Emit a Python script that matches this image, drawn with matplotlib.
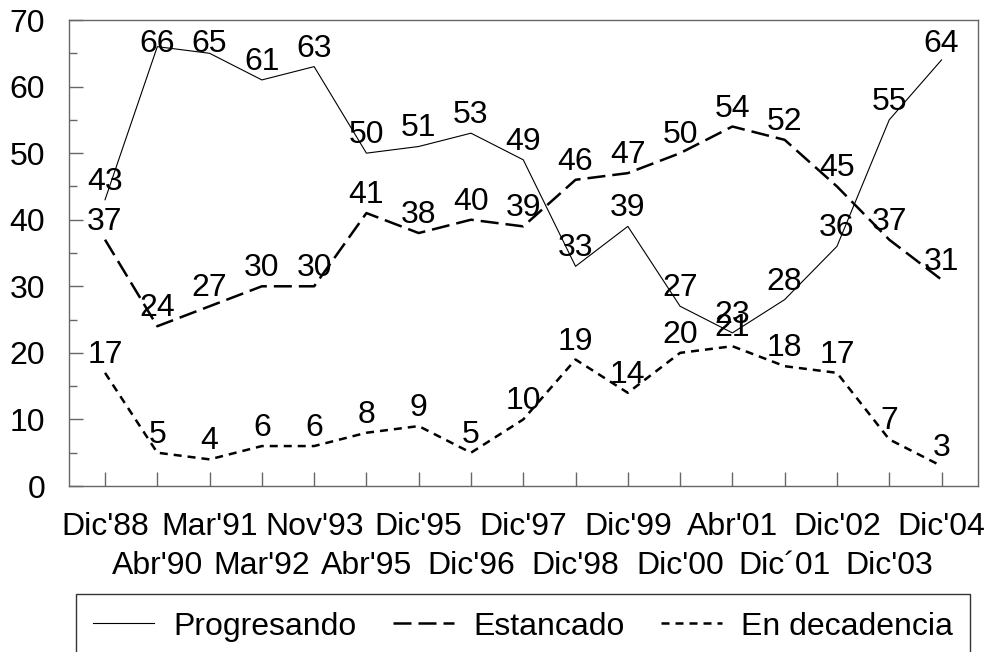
import numpy as np
import matplotlib
matplotlib.use('Agg')
import matplotlib.pyplot as plt
from matplotlib.ticker import MultipleLocator

plt.rcParams['font.family'] = ['Liberation Sans', 'DejaVu Sans']

# datos
periodos = ["Dic'88", "Abr'90", "Mar'91", "Mar'92", "Nov'93", "Abr'95", "Dic'95", "Dic'96",
            "Dic'97", "Dic'98", "Dic'99", "Dic'00", "Abr'01", "Dic´01", "Dic'02", "Dic'03", "Dic'04"]
progresando = [43, 66, 65, 61, 63, 50, 51, 53, 49, 33, 39, 27, 23, 28, 36, 55, 64]
estancado = [37, 24, 27, 30, 30, 41, 38, 40, 39, 46, 47, 50, 54, 52, 45, 37, 31]
decadencia = [17, 5, 4, 6, 6, 8, 9, 5, 10, 19, 14, 20, 21, 18, 17, 7, 3]

gris = '#666666'
x = np.arange(len(periodos))
ymax = 70

fig = plt.figure(figsize=(9.85, 6.52), dpi=100)
ax = fig.add_axes([0.070, 0.2546, 0.923, 0.7147])

ax.plot(x, progresando, color='black', lw=0.8, label='Progresando')
ax.plot(x, estancado, color='black', lw=1.8, linestyle=(0, (7.2, 2.8)), label='Estancado')
ax.plot(x, decadencia, color='black', lw=1.8, linestyle=(0, (3.2, 2.4)), label='En decadencia')

# etiquetas de datos: encima del punto, pero sin salir del area del grafico
alto_px = 0.7147 * 652
px_por_unidad = alto_px / ymax
for serie in [progresando, estancado, decadencia]:
    for xi, v in zip(x, serie):
        d = min(10, (ymax - v) * px_por_unidad - 32)
        ax.annotate(str(v), (xi, v), xytext=(0, d * 0.72), textcoords='offset points',
                    ha='center', va='baseline', fontsize=23)

ax.set_xlim(-0.69, 16.7)
ax.set_ylim(0, ymax)
ax.yaxis.set_major_locator(MultipleLocator(10))
ax.yaxis.set_minor_locator(MultipleLocator(5))
ax.set_xticks(x)
ax.set_xticklabels(periodos)

for s in ax.spines.values():
    s.set_color(gris)
    s.set_linewidth(1.0)
ax.tick_params(axis='both', which='major', direction='in', length=10, color=gris,
               labelsize=23, width=1)
ax.tick_params(axis='y', which='minor', direction='in', length=5.8, color=gris, width=1)
ax.tick_params(axis='y', which='major', pad=17)
ax.tick_params(axis='x', which='major', pad=19)
for t in ax.xaxis.get_major_ticks()[1::2]:
    t.set_pad(47)

leg = fig.legend(loc='upper center', bbox_to_anchor=(523 / 985, 1 - 594 / 652), ncol=3,
                 fontsize=23, frameon=True, fancybox=False, edgecolor='black',
                 handlelength=1.9, handletextpad=0.6, columnspacing=1.15, borderpad=0.55,
                 borderaxespad=0)
leg.get_frame().set_linewidth(1.0)

fig.savefig('out.png', dpi=100)
